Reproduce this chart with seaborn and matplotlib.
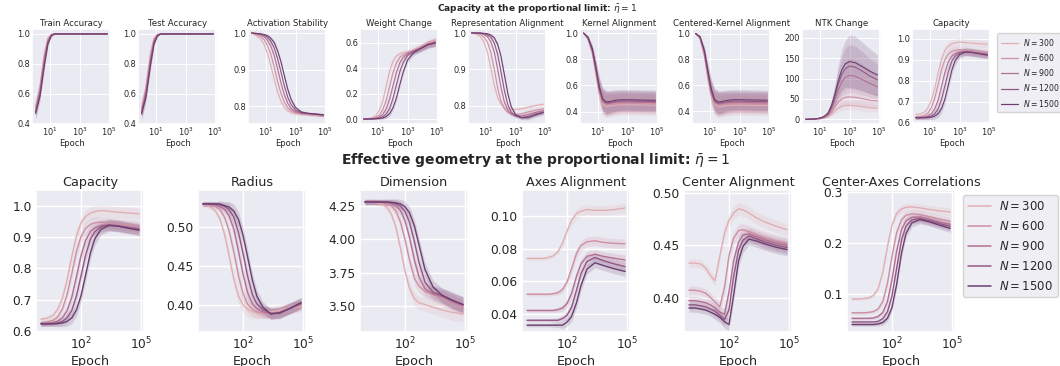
import numpy as np
import pandas as pd
import matplotlib
matplotlib.use("Agg")
import matplotlib.pyplot as plt
from matplotlib.lines import Line2D
from matplotlib.ticker import NullLocator
import seaborn as sns

# ---------------- data ----------------
EPOCHS = [1, 2, 4, 7, 12, 20, 35, 60, 100, 170, 300, 500, 1000, 2500, 7000, 25000, 80000]
N_VALUES = [300, 600, 900, 1200, 1500]

train_acc = [
    [0.52, 0.66, 0.88, 0.975, 0.998, 1.0, 1.0, 1.0, 1.0, 1.0, 1.0, 1.0, 1.0, 1.0, 1.0, 1.0, 1.0],
    [0.505, 0.64, 0.855, 0.965, 0.996, 1.0, 1.0, 1.0, 1.0, 1.0, 1.0, 1.0, 1.0, 1.0, 1.0, 1.0, 1.0],
    [0.49, 0.62, 0.83, 0.955, 0.994, 1.0, 1.0, 1.0, 1.0, 1.0, 1.0, 1.0, 1.0, 1.0, 1.0, 1.0, 1.0],
    [0.48, 0.60, 0.81, 0.945, 0.99, 1.0, 1.0, 1.0, 1.0, 1.0, 1.0, 1.0, 1.0, 1.0, 1.0, 1.0, 1.0],
    [0.47, 0.585, 0.79, 0.935, 0.987, 1.0, 1.0, 1.0, 1.0, 1.0, 1.0, 1.0, 1.0, 1.0, 1.0, 1.0, 1.0],
]
test_acc = [
    [0.515, 0.655, 0.875, 0.972, 0.997, 1.0, 1.0, 1.0, 1.0, 1.0, 1.0, 1.0, 1.0, 1.0, 1.0, 1.0, 1.0],
    [0.50, 0.635, 0.85, 0.962, 0.995, 1.0, 1.0, 1.0, 1.0, 1.0, 1.0, 1.0, 1.0, 1.0, 1.0, 1.0, 1.0],
    [0.485, 0.615, 0.825, 0.952, 0.993, 1.0, 1.0, 1.0, 1.0, 1.0, 1.0, 1.0, 1.0, 1.0, 1.0, 1.0, 1.0],
    [0.475, 0.595, 0.805, 0.942, 0.989, 1.0, 1.0, 1.0, 1.0, 1.0, 1.0, 1.0, 1.0, 1.0, 1.0, 1.0, 1.0],
    [0.465, 0.58, 0.785, 0.932, 0.985, 1.0, 1.0, 1.0, 1.0, 1.0, 1.0, 1.0, 1.0, 1.0, 1.0, 1.0, 1.0],
]
acc_band = [0.04, 0.03, 0.025, 0.015, 0.004, 0, 0, 0, 0, 0, 0, 0, 0, 0, 0, 0, 0]

act_stab = [
    [1.0, 0.993, 0.984, 0.969, 0.945, 0.913, 0.874, 0.838, 0.813, 0.797, 0.787, 0.783, 0.779, 0.778, 0.777, 0.775, 0.773],
    [1.0, 0.996, 0.991, 0.982, 0.966, 0.943, 0.907, 0.867, 0.835, 0.811, 0.795, 0.787, 0.782, 0.779, 0.778, 0.776, 0.774],
    [1.0, 0.998, 0.995, 0.990, 0.980, 0.965, 0.938, 0.901, 0.864, 0.831, 0.807, 0.793, 0.785, 0.780, 0.779, 0.777, 0.775],
    [1.0, 0.999, 0.997, 0.994, 0.988, 0.978, 0.959, 0.929, 0.894, 0.856, 0.823, 0.804, 0.789, 0.782, 0.780, 0.778, 0.776],
    [1.0, 0.999, 0.998, 0.996, 0.993, 0.986, 0.974, 0.951, 0.922, 0.884, 0.845, 0.818, 0.796, 0.784, 0.780, 0.778, 0.776],
]
act_band = [0, 0.001, 0.002, 0.003, 0.004, 0.005, 0.006, 0.006, 0.006, 0.006, 0.005, 0.005, 0.004, 0.004, 0.004, 0.004, 0.004]

weight_change = [
    [0.001, 0.004, 0.011, 0.03, 0.07, 0.14, 0.26, 0.38, 0.455, 0.497, 0.515, 0.523, 0.53, 0.545, 0.568, 0.60, 0.62],
    [0.0, 0.002, 0.006, 0.014, 0.033, 0.071, 0.148, 0.26, 0.364, 0.442, 0.487, 0.505, 0.523, 0.538, 0.562, 0.594, 0.612],
    [0.0, 0.001, 0.003, 0.007, 0.017, 0.036, 0.08, 0.16, 0.26, 0.364, 0.445, 0.484, 0.516, 0.536, 0.558, 0.591, 0.607],
    [0.0, 0.0, 0.001, 0.003, 0.008, 0.017, 0.04, 0.085, 0.16, 0.265, 0.376, 0.445, 0.501, 0.532, 0.555, 0.588, 0.603],
    [0.0, 0.0, 0.001, 0.002, 0.004, 0.008, 0.019, 0.043, 0.087, 0.162, 0.274, 0.369, 0.464, 0.521, 0.552, 0.585, 0.60],
]
wc_band = [0, 0.001, 0.002, 0.004, 0.008, 0.012, 0.016, 0.018, 0.02, 0.02, 0.02, 0.02, 0.02, 0.022, 0.025, 0.028, 0.03]

rep_align = [
    [1.0, 0.997, 0.99, 0.975, 0.947, 0.906, 0.857, 0.822, 0.805, 0.796, 0.792, 0.79, 0.79, 0.792, 0.796, 0.801, 0.804],
    [1.0, 0.999, 0.996, 0.989, 0.975, 0.948, 0.901, 0.849, 0.813, 0.792, 0.782, 0.778, 0.776, 0.778, 0.783, 0.788, 0.792],
    [1.0, 1.0, 0.999, 0.996, 0.99, 0.977, 0.948, 0.901, 0.851, 0.811, 0.787, 0.777, 0.772, 0.772, 0.776, 0.782, 0.787],
    [1.0, 1.0, 1.0, 0.998, 0.995, 0.989, 0.973, 0.941, 0.895, 0.843, 0.802, 0.783, 0.772, 0.768, 0.771, 0.778, 0.783],
    [1.0, 1.0, 1.0, 0.999, 0.998, 0.995, 0.987, 0.969, 0.937, 0.887, 0.833, 0.798, 0.776, 0.767, 0.767, 0.775, 0.781],
]
ra_band = [0, 0, 0.001, 0.002, 0.003, 0.004, 0.005, 0.006, 0.006, 0.006, 0.005, 0.005, 0.005, 0.005, 0.006, 0.006, 0.006]

kernel_align = [
    [1.0, 0.95, 0.84, 0.68, 0.53, 0.46, 0.44, 0.443, 0.447, 0.45, 0.452, 0.453, 0.453, 0.452, 0.451, 0.45, 0.449],
    [1.0, 0.955, 0.85, 0.695, 0.545, 0.47, 0.452, 0.455, 0.459, 0.462, 0.464, 0.465, 0.465, 0.464, 0.463, 0.462, 0.461],
    [1.0, 0.96, 0.86, 0.71, 0.56, 0.48, 0.46, 0.463, 0.468, 0.471, 0.473, 0.474, 0.474, 0.473, 0.472, 0.471, 0.47],
    [1.0, 0.965, 0.87, 0.725, 0.575, 0.49, 0.468, 0.47, 0.475, 0.479, 0.481, 0.482, 0.482, 0.481, 0.48, 0.479, 0.478],
    [1.0, 0.97, 0.88, 0.74, 0.59, 0.50, 0.475, 0.477, 0.483, 0.488, 0.49, 0.491, 0.491, 0.49, 0.489, 0.488, 0.487],
]
cka = [
    [1.0, 0.96, 0.82, 0.64, 0.51, 0.45, 0.435, 0.437, 0.44, 0.443, 0.445, 0.446, 0.446, 0.445, 0.444, 0.443, 0.442],
    [1.0, 0.965, 0.835, 0.66, 0.525, 0.46, 0.446, 0.448, 0.452, 0.455, 0.457, 0.458, 0.458, 0.457, 0.456, 0.455, 0.454],
    [1.0, 0.97, 0.85, 0.68, 0.54, 0.47, 0.455, 0.457, 0.462, 0.465, 0.467, 0.468, 0.468, 0.467, 0.466, 0.465, 0.464],
    [1.0, 0.973, 0.86, 0.695, 0.555, 0.48, 0.462, 0.465, 0.47, 0.474, 0.476, 0.477, 0.477, 0.476, 0.475, 0.474, 0.473],
    [1.0, 0.977, 0.87, 0.71, 0.57, 0.49, 0.47, 0.473, 0.479, 0.484, 0.487, 0.488, 0.488, 0.487, 0.486, 0.485, 0.484],
]
k_band = [0, 0.01, 0.03, 0.055, 0.075, 0.085, 0.088, 0.085, 0.082, 0.08, 0.079, 0.078, 0.078, 0.078, 0.078, 0.078, 0.078]

ntk_change = [
    [0, 0.1, 0.3, 0.8, 1.8, 3.5, 7, 13, 20, 27, 32, 34, 34, 33, 31, 28, 27],
    [0, 0.1, 0.4, 1.0, 2.2, 4.5, 9, 18, 30, 42, 50, 54, 55, 54, 51, 47, 45],
    [0, 0.2, 0.6, 1.5, 3.2, 6, 12, 26, 47, 72, 92, 103, 108, 106, 98, 88, 80],
    [0, 0.2, 0.7, 1.8, 3.6, 7, 14, 31, 56, 86, 111, 124, 131, 128, 119, 106, 97],
    [0, 0.2, 0.8, 2.0, 4.0, 8, 16, 35, 62, 95, 122, 136, 142, 139, 130, 118, 109],
]
ntk_band = [
    [0, 0, 0.1, 0.3, 0.6, 1.2, 2.5, 4.5, 7, 9, 10, 11, 11, 11, 10, 10, 9],
    [0, 0.1, 0.2, 0.4, 0.9, 1.8, 3.5, 7, 11, 16, 19, 21, 21, 21, 20, 18, 17],
    [0, 0.1, 0.2, 0.6, 1.2, 2.4, 5, 10, 18, 27, 35, 40, 42, 41, 38, 34, 31],
    [0, 0.1, 0.3, 0.7, 1.5, 3, 6, 12, 22, 34, 44, 50, 53, 52, 48, 43, 40],
    [0, 0.1, 0.3, 0.8, 1.6, 3.3, 7, 14, 25, 38, 50, 57, 66, 65, 60, 55, 50],
]

capacity = [
    [0.637, 0.64, 0.649, 0.67, 0.706, 0.762, 0.839, 0.905, 0.945, 0.966, 0.977, 0.982, 0.985, 0.983, 0.98, 0.977, 0.975],
    [0.625, 0.628, 0.633, 0.645, 0.671, 0.715, 0.784, 0.855, 0.901, 0.928, 0.941, 0.946, 0.948, 0.946, 0.942, 0.938, 0.935],
    [0.623, 0.624, 0.626, 0.631, 0.642, 0.664, 0.708, 0.775, 0.84, 0.889, 0.918, 0.93, 0.937, 0.94, 0.937, 0.932, 0.928],
    [0.622, 0.622, 0.623, 0.625, 0.63, 0.641, 0.665, 0.713, 0.775, 0.842, 0.894, 0.918, 0.933, 0.939, 0.936, 0.93, 0.925],
    [0.622, 0.622, 0.622, 0.623, 0.625, 0.63, 0.641, 0.667, 0.711, 0.778, 0.851, 0.895, 0.925, 0.937, 0.935, 0.928, 0.922],
]
cap_band = [0.008, 0.008, 0.008, 0.01, 0.012, 0.015, 0.018, 0.02, 0.02, 0.02, 0.02, 0.02, 0.018, 0.018, 0.018, 0.018, 0.018]

radius = [
    [0.529, 0.527, 0.522, 0.511, 0.491, 0.464, 0.433, 0.411, 0.40, 0.394, 0.391, 0.39, 0.39, 0.391, 0.393, 0.396, 0.398],
    [0.53, 0.529, 0.527, 0.523, 0.513, 0.496, 0.468, 0.437, 0.415, 0.401, 0.394, 0.391, 0.389, 0.389, 0.391, 0.396, 0.40],
    [0.53, 0.53, 0.529, 0.527, 0.523, 0.515, 0.498, 0.469, 0.44, 0.416, 0.401, 0.395, 0.391, 0.389, 0.39, 0.396, 0.401],
    [0.53, 0.53, 0.53, 0.529, 0.527, 0.523, 0.513, 0.493, 0.467, 0.437, 0.413, 0.401, 0.394, 0.389, 0.389, 0.396, 0.402],
    [0.53, 0.53, 0.53, 0.53, 0.528, 0.526, 0.521, 0.51, 0.49, 0.462, 0.431, 0.411, 0.397, 0.388, 0.39, 0.396, 0.403],
]
rad_band = [0.003, 0.003, 0.003, 0.004, 0.005, 0.007, 0.009, 0.01, 0.01, 0.01, 0.009, 0.008, 0.007, 0.007, 0.007, 0.007, 0.007]

dimension = [
    [4.28, 4.28, 4.275, 4.264, 4.243, 4.195, 4.094, 3.929, 3.762, 3.631, 3.554, 3.523, 3.51, 3.49, 3.47, 3.45, 3.44],
    [4.28, 4.28, 4.278, 4.275, 4.268, 4.253, 4.213, 4.127, 3.999, 3.841, 3.706, 3.648, 3.609, 3.585, 3.56, 3.52, 3.48],
    [4.28, 4.28, 4.28, 4.278, 4.276, 4.27, 4.253, 4.215, 4.141, 4.013, 3.841, 3.719, 3.628, 3.59, 3.57, 3.53, 3.50],
    [4.28, 4.28, 4.28, 4.28, 4.278, 4.275, 4.268, 4.249, 4.21, 4.127, 3.979, 3.828, 3.679, 3.602, 3.58, 3.54, 3.51],
    [4.28, 4.28, 4.28, 4.28, 4.28, 4.278, 4.274, 4.265, 4.245, 4.199, 4.097, 3.96, 3.773, 3.643, 3.58, 3.54, 3.51],
]
dim_band = [0.02, 0.02, 0.02, 0.02, 0.022, 0.025, 0.03, 0.035, 0.04, 0.045, 0.05, 0.05, 0.05, 0.05, 0.055, 0.06, 0.06]

axes_align = [
    [0.074, 0.074, 0.074, 0.074, 0.0746, 0.0755, 0.078, 0.0835, 0.0907, 0.0974, 0.1015, 0.103, 0.104, 0.1035, 0.1035, 0.104, 0.105],
    [0.052, 0.052, 0.052, 0.052, 0.052, 0.0523, 0.0529, 0.0549, 0.0594, 0.0677, 0.0771, 0.0819, 0.0842, 0.0848, 0.0838, 0.0832, 0.083],
    [0.042, 0.042, 0.042, 0.042, 0.042, 0.042, 0.0425, 0.0435, 0.0462, 0.0525, 0.063, 0.0706, 0.0753, 0.0765, 0.0752, 0.074, 0.073],
    [0.036, 0.036, 0.036, 0.036, 0.036, 0.036, 0.036, 0.037, 0.039, 0.044, 0.0545, 0.0645, 0.072, 0.0746, 0.0725, 0.0705, 0.069],
    [0.033, 0.033, 0.033, 0.033, 0.033, 0.033, 0.033, 0.033, 0.0348, 0.0383, 0.0468, 0.0573, 0.0674, 0.0713, 0.0695, 0.0675, 0.066],
]
ax_band = [0.001, 0.001, 0.001, 0.001, 0.001, 0.0012, 0.0015, 0.002, 0.0025, 0.003, 0.003, 0.003, 0.003, 0.003, 0.003, 0.003, 0.003]

center_align = [
    [0.433, 0.433, 0.432, 0.428, 0.421, 0.416, 0.44, 0.462, 0.474, 0.481, 0.485, 0.484, 0.481, 0.476, 0.472, 0.468, 0.465],
    [0.407, 0.407, 0.406, 0.404, 0.40, 0.396, 0.391, 0.41, 0.44, 0.457, 0.464, 0.465, 0.463, 0.46, 0.457, 0.454, 0.452],
    [0.397, 0.397, 0.396, 0.395, 0.393, 0.39, 0.386, 0.384, 0.405, 0.435, 0.453, 0.46, 0.461, 0.458, 0.455, 0.452, 0.45],
    [0.393, 0.393, 0.392, 0.391, 0.389, 0.387, 0.383, 0.379, 0.388, 0.42, 0.445, 0.455, 0.459, 0.456, 0.453, 0.45, 0.448],
    [0.39, 0.39, 0.389, 0.388, 0.386, 0.384, 0.381, 0.377, 0.374, 0.402, 0.435, 0.449, 0.456, 0.454, 0.451, 0.448, 0.446],
]
ca_band = [0.004, 0.004, 0.004, 0.004, 0.004, 0.005, 0.005, 0.006, 0.006, 0.006, 0.006, 0.006, 0.006, 0.006, 0.006, 0.006, 0.006]

center_axes_corr = [
    [0.09, 0.09, 0.0907, 0.0923, 0.097, 0.1096, 0.142, 0.1933, 0.2344, 0.257, 0.266, 0.269, 0.27, 0.268, 0.265, 0.262, 0.26],
    [0.063, 0.063, 0.063, 0.0638, 0.0655, 0.0702, 0.0852, 0.1215, 0.1726, 0.2194, 0.2451, 0.2535, 0.2565, 0.255, 0.251, 0.246, 0.242],
    [0.052, 0.052, 0.052, 0.052, 0.053, 0.0556, 0.0634, 0.0856, 0.1276, 0.1834, 0.226, 0.2426, 0.2498, 0.25, 0.246, 0.24, 0.236],
    [0.045, 0.045, 0.045, 0.045, 0.045, 0.046, 0.0515, 0.0654, 0.096, 0.1494, 0.2053, 0.2321, 0.245, 0.247, 0.243, 0.237, 0.232],
    [0.04, 0.04, 0.04, 0.04, 0.04, 0.041, 0.0439, 0.0524, 0.0732, 0.1179, 0.1799, 0.218, 0.239, 0.245, 0.241, 0.234, 0.228],
]
cac_band = [0.003, 0.003, 0.003, 0.003, 0.003, 0.004, 0.005, 0.006, 0.007, 0.008, 0.008, 0.008, 0.008, 0.008, 0.008, 0.008, 0.008]

TOP_TITLES = ["Train Accuracy", "Test Accuracy", "Activation Stability", "Weight Change",
              "Representation Alignment", "Kernel Alignment", "Centered-Kernel Alignment",
              "NTK Change", "Capacity"]
BOTTOM_TITLES = ["Capacity", "Radius", "Dimension", "Axes Alignment",
                 "Center Alignment", "Center-Axes Correlations"]

# ---------------- style ----------------
sns.set_theme(style="darkgrid")
plt.rcParams["font.family"] = ["DejaVu Sans"]
cmap = sns.color_palette("ch:", as_cmap=True)
hue_norm = plt.Normalize(0, 2000)

W, H = 1060, 366
fig = plt.figure(figsize=(W / 100, H / 100), dpi=100)


def px_axes(left, top, w, h):
    return fig.add_axes([left / W, 1 - (top + h) / H, w / W, h / H])


def long_df(values, band):
    rows = []
    for i, (n, series) in enumerate(zip(N_VALUES, values)):
        b = band[i] if isinstance(band[0], list) else band
        for e, v, s in zip(EPOCHS, series, b):
            rows.append((e, v - s, n))
            rows.append((e, v, n))
            rows.append((e, v + s, n))
    return pd.DataFrame(rows, columns=["epoch", "value", "N"])


def draw(ax, title, values, band, yticks, ylim, xticks, fs, lw, tpad, lpad, tickpad):
    df = long_df(values, band)
    sns.lineplot(data=df, x="epoch", y="value", hue="N", palette=cmap, hue_norm=hue_norm,
                 estimator="median", errorbar=("pi", 100), linewidth=lw,
                 err_kws={"alpha": 0.18, "linewidth": 0}, legend=False, ax=ax)
    ax.set_xscale("log")
    ax.set_xticks(xticks)
    ax.xaxis.set_minor_locator(NullLocator())
    ax.set_yticks(yticks)
    ax.set_ylim(ylim)
    ax.set_title(title, fontsize=fs["title"], pad=tpad, color=".15")
    ax.set_xlabel("Epoch", fontsize=fs["label"], labelpad=lpad, color=".15")
    ax.set_ylabel("")
    ax.tick_params(axis="both", labelsize=fs["tick"], pad=tickpad, length=0)


# ---------------- top row ----------------
top_data = [train_acc, test_acc, act_stab, weight_change, rep_align,
            kernel_align, cka, ntk_change, capacity]
top_bands = [acc_band, acc_band, act_band, wc_band, ra_band, k_band, k_band, ntk_band, cap_band]
top_yticks = [[0.4, 0.6, 0.8, 1.0], [0.4, 0.6, 0.8, 1.0], [0.8, 0.9, 1.0], [0.0, 0.2, 0.4, 0.6],
              [0.8, 0.9, 1.0], [0.4, 0.6, 0.8, 1.0], [0.4, 0.6, 0.8, 1.0], [0, 50, 100, 150, 200],
              [0.6, 0.7, 0.8, 0.9, 1.0]]
top_ylims = [(0.4, 1.033), (0.4, 1.033), (0.751, 1.011), (-0.039, 0.71), (0.75, 1.011),
             (0.306, 1.031), (0.30, 1.035), (-11.6, 222), (0.592, 1.048)]
top_lefts = [32, 138, 248, 360, 468, 580, 692, 802, 912]
fs_top = {"title": 6.2, "label": 6.0, "tick": 5.9}
for i in range(9):
    ax = px_axes(top_lefts[i], 29, 79, 95)
    draw(ax, TOP_TITLES[i], top_data[i], top_bands[i], top_yticks[i], top_ylims[i],
         [1e1, 1e3, 1e5], fs_top, 0.8, 2.0, 0.5, 1.5)
    for gl in ax.get_xgridlines() + ax.get_ygridlines():
        gl.set_linewidth(0.7)

fig.text(537 / W, 1 - 8.5 / H, r"Capacity at the proportional limit: $\bar{\eta} = 1$",
         ha="center", va="center", fontsize=6.5, fontweight="bold", color=".15")

handles_top = [Line2D([], [], color=cmap(hue_norm(n)), lw=0.9) for n in N_VALUES]
labels = [rf"$N = {n}$" for n in N_VALUES]
fig.legend(handles_top, labels, loc="upper left", bbox_to_anchor=(997 / W, 1 - 33 / H),
           fontsize=5.6, borderaxespad=0, frameon=True, handlelength=2.2,
           handletextpad=0.7, labelspacing=0.55, borderpad=0.45)

# ---------------- bottom row ----------------
bot_data = [capacity, radius, dimension, axes_align, center_align, center_axes_corr]
bot_bands = [cap_band, rad_band, dim_band, ax_band, ca_band, cac_band]
bot_yticks = [[0.6, 0.7, 0.8, 0.9, 1.0], [0.40, 0.45, 0.50], [3.50, 3.75, 4.00, 4.25],
              [0.04, 0.06, 0.08, 0.10], [0.40, 0.45, 0.50], [0.1, 0.2, 0.3]]
bot_ylims = [(0.596, 1.051), (0.365, 0.548), (3.304, 4.37), (0.0288, 0.116),
             (0.367, 0.503), (0.0254, 0.303)]
bot_lefts = [36, 198, 360, 522, 684, 847]
fs_bot = {"title": 9.2, "label": 9.2, "tick": 8.8}
for i in range(6):
    ax = px_axes(bot_lefts[i], 190, 108, 142)
    draw(ax, BOTTOM_TITLES[i], bot_data[i], bot_bands[i], bot_yticks[i], bot_ylims[i],
         [1e2, 1e5], fs_bot, 1.0, 3.0, 1.5, 3.0)

fig.text(536 / W, 1 - 160 / H, r"Effective geometry at the proportional limit: $\bar{\eta} = 1$",
         ha="center", va="center", fontsize=10, fontweight="bold", color=".15")

handles_bot = [Line2D([], [], color=cmap(hue_norm(n)), lw=1.1) for n in N_VALUES]
fig.legend(handles_bot, labels, loc="upper left", bbox_to_anchor=(963 / W, 1 - 195 / H),
           fontsize=8.4, borderaxespad=0, frameon=True, handlelength=2.0,
           handletextpad=0.7, labelspacing=0.6, borderpad=0.4)

fig.savefig("out.png", dpi=100)
